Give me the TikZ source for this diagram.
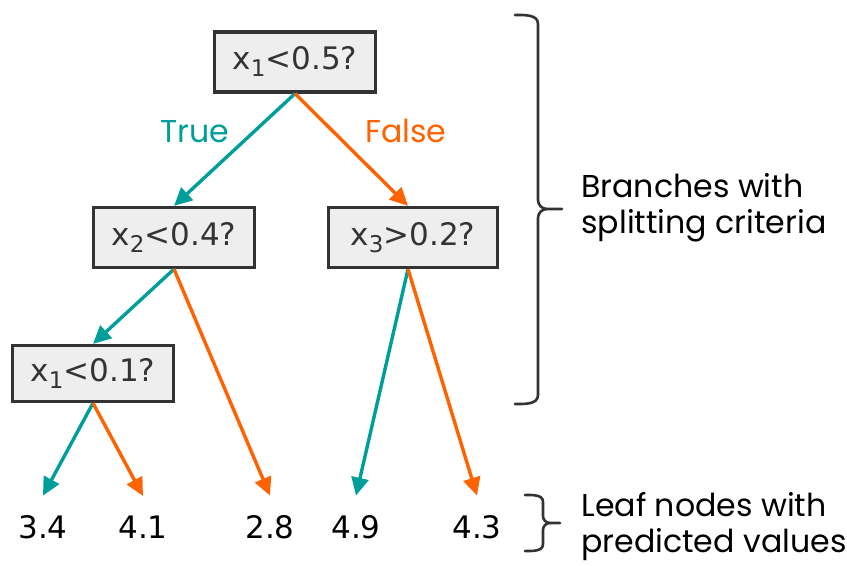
\documentclass[tikz,border=0pt]{standalone}
\usepackage{fontspec}
\setmainfont{DejaVu Sans}
\newfontfamily\labelfont{Poppins}
\usetikzlibrary{arrows.meta}
\definecolor{truecol}{HTML}{009E9A}
\definecolor{falsecol}{HTML}{FF6200}
\definecolor{boxline}{HTML}{333333}
\definecolor{boxfill}{HTML}{EEEEEE}
% variable with a lowered index
\newcommand\xvar[1]{x\raisebox{-3.5pt}{\fontsize{11.5pt}{11.5pt}\selectfont #1}}
\tikzset{
  split/.style={draw=boxline, line width=1.6pt, fill=boxfill, text=boxline,
    inner sep=0pt, minimum width=80.5pt, minimum height=30pt,
    font=\fontsize{15.5pt}{15.5pt}\selectfont},
  leaf/.style={inner xsep=0pt, inner ysep=10pt, anchor=base, text=black,
    font=\fontsize{15.5pt}{15.5pt}\selectfont},
  edge/.style={line width=1.7pt, -{Triangle[length=9pt,width=8.5pt]}},
  yes/.style={edge, draw=truecol, fill=truecol},
  no/.style={edge, draw=falsecol, fill=falsecol},
  brace/.style={draw=boxline, line width=1.3pt, line cap=round},
  note/.style={anchor=base west, inner sep=0pt, text=black,
    font=\labelfont\fontsize{15.8pt}{15.8pt}\selectfont},
}
\begin{document}
\begin{tikzpicture}[x=0.5pt, y=-0.5pt]
\useasboundingbox (0,0) rectangle (847,566);

% splitting nodes
\node[split] (root) at (295,62) {\xvar{1}<0.5?};
\node[split, minimum height=30pt] (left) at (174,237.5) {\xvar{2}<0.4?};
\node[split, minimum width=84.5pt] (right) at (413,237.5) {\xvar{3}>0.2?};
\node[split, minimum height=28pt] (deep) at (93,373.5) {\xvar{1}<0.1?};

% leaves
\node[leaf] (l1) at (43,539) {3.4};
\node[leaf] (l2) at (143,539) {4.1};
\node[leaf] (l3) at (270,539) {2.8};
\node[leaf] (l4) at (356,539) {4.9};
\node[leaf] (l5) at (477,539) {4.3};

% branches
\draw[yes] (root.south) -- (left.north);
\draw[no] (root.south) -- ([xshift=-2.5pt]right.north);
\draw[yes] (left.south) -- (deep.north);
\draw[no] (left.south) -- (l3.north);
\draw[yes] ([xshift=-2.5pt]right.south) -- (l4.north);
\draw[no] ([xshift=-2.5pt]right.south) -- (l5.north);
\draw[yes] (deep.south) -- (l1.north);
\draw[no] (deep.south) -- (l2.north);

% branch labels
\node[note, anchor=base, text=truecol] (tlab) at (194.5,143) {True};
\node[note, anchor=base, text=falsecol] (flab) at (406,143) {False};

% braces
\draw[brace] (515,15) to[out=0,in=90] (538,24) -- (538,200)
  to[out=-90,in=180] (547,209) -- (562,209);
\draw[brace] (515,404) to[out=0,in=-90] (538,395) -- (538,218)
  to[out=90,in=180] (547,209);
\draw[brace] (525,495) to[out=0,in=90] (543,502) -- (543,516)
  to[out=-90,in=180] (550,523) -- (560,523);
\draw[brace] (525,551) to[out=0,in=-90] (543,544) -- (543,530)
  to[out=90,in=180] (550,523);

% annotations
\node[note] (n1) at (581,198) {Branches with};
\node[note] (n2) at (581,234) {splitting criteria};
\node[note] (n3) at (581,517) {Leaf nodes with};
\node[note] (n4) at (581,553) {predicted values};
\end{tikzpicture}
\end{document}
